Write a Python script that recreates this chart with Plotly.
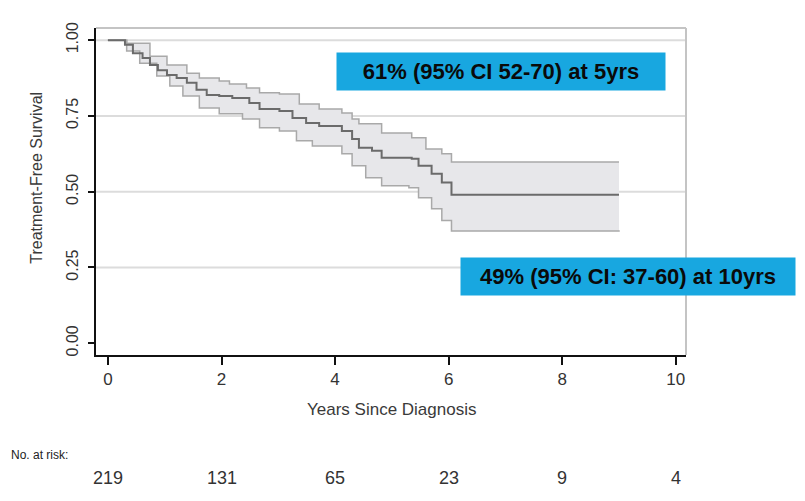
import plotly.graph_objects as go

# ---------------- data ----------------
surv_time = [0, 0.30, 0.44, 0.61, 0.74, 0.88, 1.04, 1.21, 1.39, 1.56, 1.74, 1.96, 2.19, 2.49, 2.67,
             3.02, 3.25, 3.49, 3.72, 4.12, 4.30, 4.42, 4.65, 4.82, 5.35, 5.47, 5.70, 5.88, 6.05, 9.0]
surv = [1.0, 0.985, 0.957, 0.941, 0.918, 0.901, 0.885, 0.875, 0.859, 0.836, 0.819, 0.816, 0.809, 0.793, 0.773,
        0.766, 0.743, 0.727, 0.717, 0.700, 0.674, 0.645, 0.635, 0.612, 0.609, 0.586, 0.559, 0.530, 0.490, 0.490]

upper_time = [0, 0.33, 0.74, 1.04, 1.39, 1.61, 1.96, 2.14, 2.44, 2.67, 3.02, 3.37, 3.72, 4.12, 4.30,
              4.42, 4.82, 5.35, 5.60, 5.88, 6.05, 9.0]
upper = [1.0, 0.99, 0.947, 0.918, 0.891, 0.875, 0.865, 0.855, 0.842, 0.826, 0.822, 0.789, 0.773, 0.760, 0.740,
         0.724, 0.694, 0.678, 0.641, 0.625, 0.598, 0.598]

lower_time = [0, 0.33, 0.56, 0.86, 1.09, 1.32, 1.61, 1.96, 2.37, 2.67, 3.02, 3.32, 3.60, 4.12, 4.30,
              4.54, 4.82, 5.30, 5.47, 5.70, 5.88, 6.05, 9.0]
lower = [1.0, 0.964, 0.924, 0.882, 0.849, 0.816, 0.776, 0.757, 0.740, 0.711, 0.700, 0.668, 0.651, 0.625, 0.586,
         0.546, 0.520, 0.513, 0.480, 0.444, 0.405, 0.370, 0.368]

x_ticks = [0, 2, 4, 6, 8, 10]
y_ticks = [0.0, 0.25, 0.5, 0.75, 1.0]
y_ticktext = ["0.00", "0.25", "0.50", "0.75", "1.00"]
grid_levels = [0.25, 0.5, 0.75, 1.0]

risk_times = [0, 2, 4, 6, 8, 10]
at_risk = [219, 131, 65, 23, 9, 4]

note_5yr = "61% (95% CI 52-70) at 5yrs"
note_10yr = "49% (95% CI: 37-60) at 10yrs"

# ---------------- figure ----------------
FONT = "Liberation Sans, Arial, Helvetica, sans-serif"
BAND_EDGE = "#a9a9a9"
BAND_FILL = "#e7e7ea"
LINE = "#6b6b6b"
BLUE = "#18a7e0"

fig = go.Figure()

fig.add_trace(go.Scatter(x=lower_time, y=lower, mode="lines", line=dict(shape="hv", color=BAND_EDGE, width=1.5),
                         hoverinfo="skip", showlegend=False))
fig.add_trace(go.Scatter(x=upper_time, y=upper, mode="lines", line=dict(shape="hv", color=BAND_EDGE, width=1.5),
                         fill="tonexty", fillcolor=BAND_FILL, hoverinfo="skip", showlegend=False))
fig.add_trace(go.Scatter(x=surv_time, y=surv, mode="lines", line=dict(shape="hv", color=LINE, width=2),
                         showlegend=False))

# horizontal grid lines
for g in grid_levels:
    fig.add_shape(type="line", xref="paper", yref="y", x0=0, x1=1, y0=g, y1=g,
                  line=dict(color="#dcdcdc", width=2), layer="below")
# top & right frame (light)
fig.add_shape(type="line", xref="paper", yref="paper", x0=0, x1=1, y0=1, y1=1,
              line=dict(color="#c4c4c4", width=2))
fig.add_shape(type="line", xref="paper", yref="paper", x0=1, x1=1, y0=0, y1=1,
              line=dict(color="#c4c4c4", width=2))

# blue notes
fig.add_annotation(xref="paper", yref="paper", x=0.687, y=0.868, xanchor="center", yanchor="middle",
                   text="<b>" + note_5yr + "</b>", showarrow=False, bgcolor=BLUE, borderpad=0,
                   width=328, height=37, font=dict(family=FONT, size=22, color="#0a0a0a"))
fig.add_annotation(xref="paper", yref="paper", x=0.902, y=0.24, xanchor="center", yanchor="middle",
                   text="<b>" + note_10yr + "</b>", showarrow=False, bgcolor=BLUE, borderpad=0,
                   width=334, height=37, font=dict(family=FONT, size=22, color="#0a0a0a"))

# axis titles
fig.add_annotation(xref="paper", yref="paper", x=0.5, y=-0.168, xanchor="center", yanchor="middle",
                   text="Years Since Diagnosis", showarrow=False,
                   font=dict(family=FONT, size=17, color="#3a3a3a"))
fig.add_annotation(xref="paper", yref="paper", x=-0.1, y=0.542, xanchor="center", yanchor="middle",
                   text="Treatment-Free Survival", textangle=-90, showarrow=False,
                   font=dict(family=FONT, size=16, color="#3a3a3a"))

# number at risk
fig.add_annotation(xref="paper", yref="paper", x=-0.148, y=-0.306, xanchor="left", yanchor="middle",
                   text="No. at risk:", showarrow=False, font=dict(family=FONT, size=12, color="#222"))
for t, n in zip(risk_times, at_risk):
    fig.add_annotation(xref="x", yref="paper", x=t, y=-0.377, xanchor="center", yanchor="middle",
                       text=str(n), showarrow=False, font=dict(family=FONT, size=18, color="#333"))

fig.update_layout(
    width=805, height=501,
    margin=dict(l=96, r=119, t=28, b=146),
    paper_bgcolor="white", plot_bgcolor="white",
    font=dict(family=FONT, color="#333"),
    xaxis=dict(range=[-0.21, 10.18], tickvals=x_ticks, ticks="outside", ticklen=8, tickwidth=2,
               tickcolor="#111", showline=True, linecolor="#111", linewidth=2, showgrid=False,
               zeroline=False, tickfont=dict(family=FONT, size=17, color="#333")),
    yaxis=dict(range=[-0.0387, 1.04], tickvals=y_ticks, ticktext=y_ticktext, ticks="outside", ticklen=6,
               tickwidth=2, tickcolor="#111", showline=True, linecolor="#111", linewidth=2,
               showgrid=False, zeroline=False, tickangle=-90, ticklabelstandoff=4,
               tickfont=dict(family=FONT, size=16, color="#333")),
)

fig.write_html("out.html")
